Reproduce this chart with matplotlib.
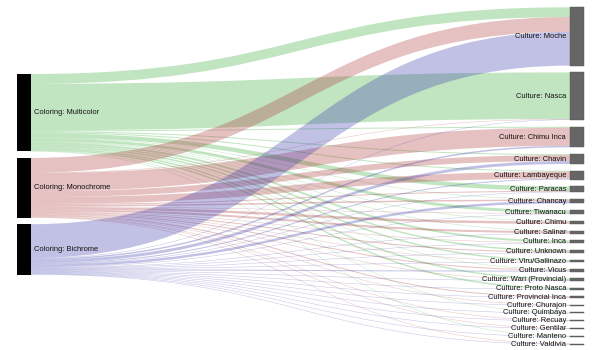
import matplotlib
matplotlib.use("Agg")
import matplotlib.pyplot as plt
from matplotlib.path import Path
from matplotlib.patches import PathPatch, Rectangle

# source nodes (left) and target nodes (right)
colorings = ["Multicolor", "Monochrome", "Bichrome"]
cultures = ["Moche", "Nasca", "Chimu Inca", "Chavin", "Lambayeque", "Paracas",
            "Chancay", "Tiwanacu", "Chimu", "Salinar", "Inca", "Unknown",
            "Viru/Gallinazo", "Vicus", "Wari (Provincial)", "Proto Nasca",
            "Provincial Inca", "Churajon", "Quimbaya", "Recuay", "Gentilar",
            "Manteno", "Valdivia"]

# flow counts per culture, one list per coloring (same order as cultures)
multicolor = [20, 95, 2, 2, 2, 9, 1, 6, 1, 1, 4, 3, 3, 1, 3, 3, 0, 0, 1, 0, 0, 1, 0]
monochrome = [30, 1, 37, 12, 14, 2, 3, 1, 5, 4, 1, 2, 1, 2, 1, 0, 2, 1, 0, 1, 1, 0, 1]
bichrome = [69, 1, 3, 6, 2, 1, 5, 1, 0, 1, 1, 1, 1, 2, 1, 1, 1, 1, 1, 1, 1, 1, 1]

flows = [multicolor, monochrome, bichrome]
link_colors = ["#33aa33", "#aa3333", "#3333aa"]

# layout (pixels)
ky = 0.49
pad_left = 6.5
pad_right = 6.8
left_x0, left_x1 = 17, 30.5
right_x0, right_x1 = 570, 583.5
left_top, right_top = 74, 7.3

src_tot = [sum(f) for f in flows]
tgt_tot = [sum(f[j] for f in flows) for j in range(len(cultures))]

src_y = []
y = left_top
for t in src_tot:
    src_y.append(y)
    y += t * ky + pad_left
tgt_y = []
y = right_top
for t in tgt_tot:
    tgt_y.append(y)
    y += t * ky + pad_right

fig = plt.figure(figsize=(6, 3.5), dpi=100)
ax = fig.add_axes([0, 0, 1, 1])
ax.set_xlim(0, 600)
ax.set_ylim(350, 0)
ax.axis("off")

plt.rcParams["font.family"] = ["Liberation Sans", "DejaVu Sans"]
fs = 5.4

# links: offsets at source ordered by target, at target ordered by source
link_geom = []
s_off = list(src_y)
for i in range(len(colorings)):
    for j in range(len(cultures)):
        v = flows[i][j]
        if v == 0:
            continue
        link_geom.append([i, j, s_off[i], v * ky])
        s_off[i] += v * ky
t_off = list(tgt_y)
t_pos = {}
for j in range(len(cultures)):
    for i in range(len(colorings)):
        v = flows[i][j]
        if v == 0:
            continue
        t_pos[(i, j)] = t_off[j]
        t_off[j] += v * ky

xm = (left_x1 + right_x0) / 2
for i, j, ys, w in link_geom:
    yt = t_pos[(i, j)]
    verts = [(left_x1, ys), (xm, ys), (xm, yt), (right_x0, yt),
             (right_x0, yt + w), (xm, yt + w), (xm, ys + w), (left_x1, ys + w),
             (left_x1, ys)]
    codes = [Path.MOVETO, Path.CURVE4, Path.CURVE4, Path.CURVE4,
             Path.LINETO, Path.CURVE4, Path.CURVE4, Path.CURVE4, Path.CLOSEPOLY]
    ax.add_patch(PathPatch(Path(verts, codes), facecolor=link_colors[i],
                           edgecolor="none", alpha=0.3))

# nodes
for i, name in enumerate(colorings):
    h = src_tot[i] * ky
    ax.add_patch(Rectangle((left_x0, src_y[i]), left_x1 - left_x0, h,
                           facecolor="black", edgecolor="none"))
    ax.text(left_x1 + 3, src_y[i] + h / 2, "Coloring: " + name, fontsize=fs,
            ha="left", va="center", color="#111111")

for j, name in enumerate(cultures):
    h = max(tgt_tot[j] * ky, 0.8)
    ax.add_patch(Rectangle((right_x0, tgt_y[j]), right_x1 - right_x0, h,
                           facecolor="#666666", edgecolor="#555555", lw=0.3))
    ax.text(right_x0 - 4, tgt_y[j] + h / 2, "Culture: " + name, fontsize=fs,
            ha="right", va="center", color="#111111")

fig.savefig("out.png", dpi=100)
